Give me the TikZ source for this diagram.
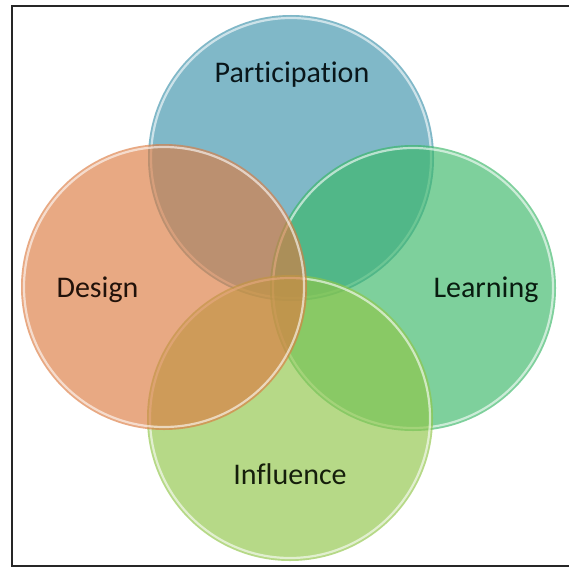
\documentclass[tikz,border=0pt]{standalone}
\usepackage{fontspec}
\setmainfont[Ligatures={NoCommon}]{Carlito}
\definecolor{cblue}{RGB}{60,146,171}
\definecolor{clearn}{RGB}{57,183,103}
\definecolor{cinfl}{RGB}{143,198,72}
\definecolor{cdesign}{RGB}{220,123,65}
\begin{document}
\begin{tikzpicture}[x=1pt,y=-1pt,
  disc/.style={circle, minimum size=286pt, inner sep=0pt, fill opacity=0.65},
  rim/.style={draw=white, draw opacity=0.6, line width=2.2pt},
  lbl/.style={font=\fontsize{30}{36}\selectfont, anchor=base}]
\useasboundingbox (0,0) rectangle (569,567);
\fill[white] (0,0) rectangle (569,567);
\draw[line width=1.8pt, draw=black!85] (585,6) -| (12,566) -- (585,566);
% circles, bottom to top
\node[disc, fill=cblue] (P) at (291,158) {};
\draw[rim] (P.center) circle (140pt);
\node[disc, fill=clearn] (L) at (413,288) {};
\draw[rim] (L.center) circle (140pt);
\node[disc, fill=cinfl] (I) at (290,418) {};
\draw[rim] (I.center) circle (140pt);
\node[disc, fill=cdesign] (D) at (164,287) {};
\draw[rim] (D.center) circle (140pt);
% labels
\node[lbl, text=cblue!15!black] (tP) at (292,83) {Participation};
\node[lbl, text=cdesign!15!black] (tD) at (97.5,297) {Design};
\node[lbl, text=clearn!15!black] (tL) at (486,297) {Learning};
\node[lbl, text=cinfl!15!black] (tI) at (290,484) {Influence};
\end{tikzpicture}
\end{document}
